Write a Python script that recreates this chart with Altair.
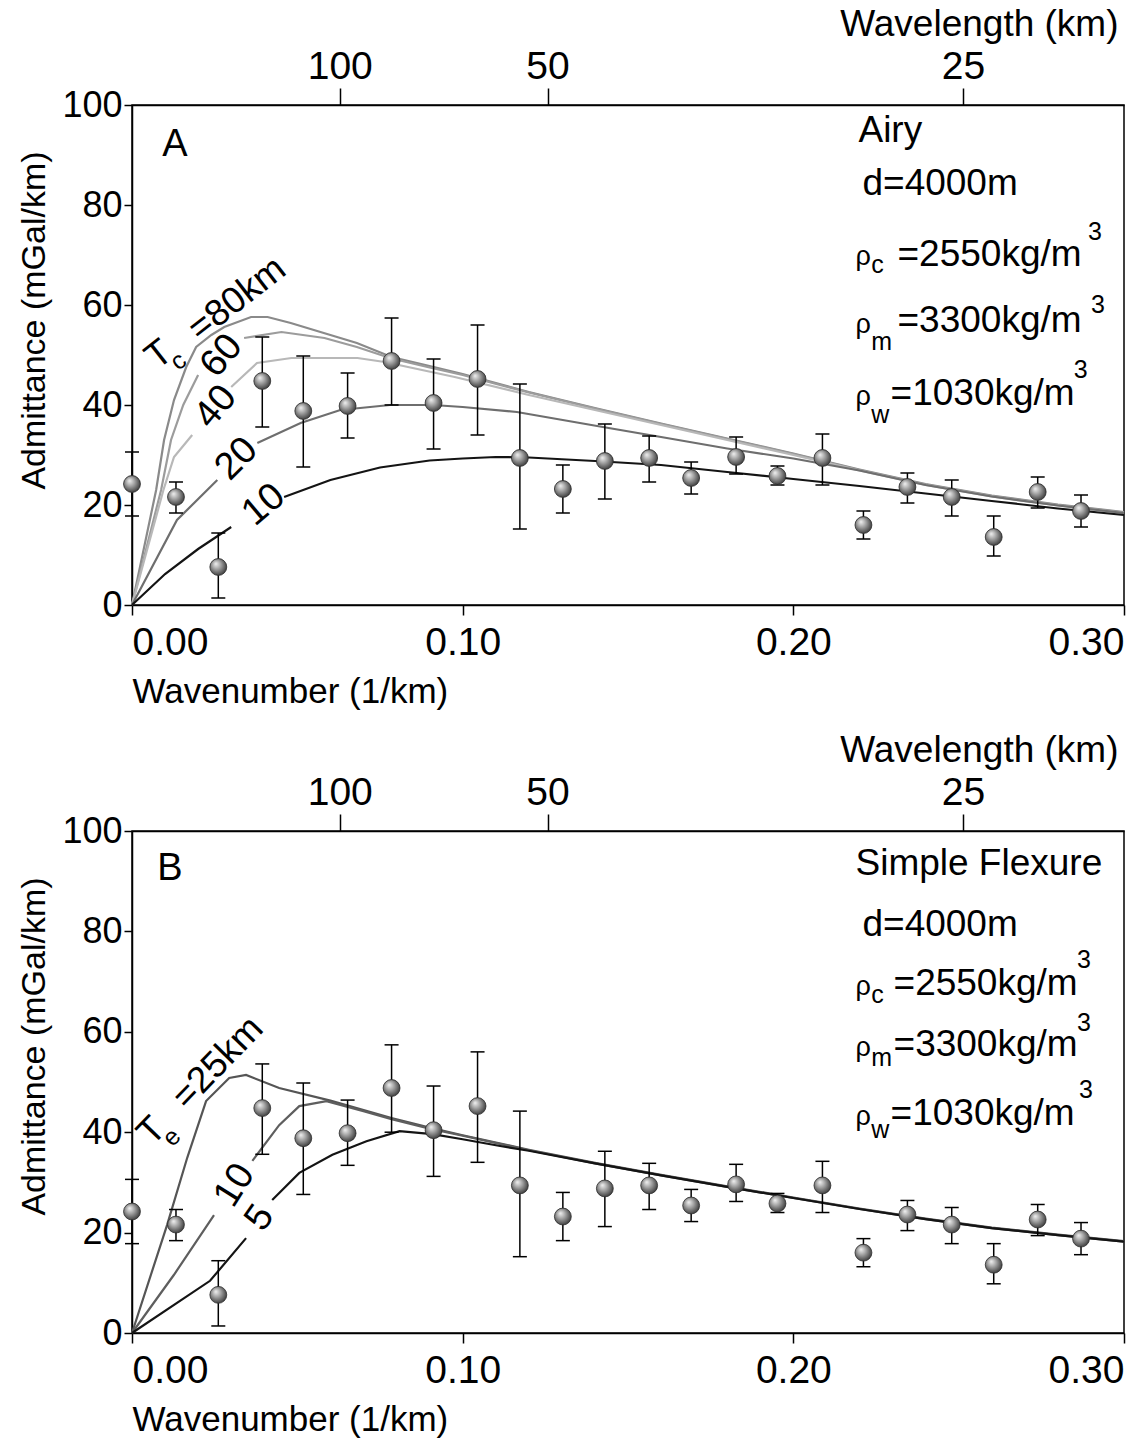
import math
import altair as alt
import pandas as pd

FONT = "Liberation Sans"

obs_k = [0.000, 0.0133, 0.0261, 0.0394, 0.0518, 0.0652, 0.0785, 0.0912, 0.1045,
         0.1173, 0.1303, 0.1430, 0.1564, 0.1691, 0.1827, 0.1952, 0.2088, 0.2212,
         0.2345, 0.2479, 0.2606, 0.2739, 0.2870]
obs_val = [24.2, 21.6, 7.6, 44.8, 38.8, 39.8, 48.8, 40.4, 45.2, 29.4, 23.2, 28.8,
           29.4, 25.4, 29.6, 25.8, 29.4, 16.0, 23.6, 21.6, 13.6, 22.6, 18.8]
obs_hi = [30.6, 24.6, 14.4, 53.6, 49.8, 46.4, 57.4, 49.2, 56.0, 44.2, 28.0, 36.2,
          33.8, 28.6, 33.6, 27.8, 34.2, 18.8, 26.4, 25.0, 17.8, 25.6, 22.0]
obs_lo = [17.8, 18.4, 1.4, 35.6, 27.6, 33.4, 40.0, 31.2, 34.0, 15.2, 18.4, 21.2,
          24.6, 22.2, 26.2, 24.0, 24.0, 13.2, 20.4, 17.8, 9.8, 19.4, 15.6]

# ---------------- model curves, panel A (Airy); None = gap behind label -------
a80_k = [0, 0.0073, 0.0097, 0.0127, 0.0164, 0.0194, 0.024, 0.0279, 0.036, 0.041, 0.048,
         0.058, 0.068, 0.0785, 0.09, 0.10, 0.12, 0.14, 0.16, 0.18, 0.20, 0.22, 0.24,
         0.26, 0.28, 0.30]
a80_v = [0, 23, 33, 41, 47.6, 51.6, 54.0, 55.6, 57.6, 57.6, 56.4, 54.4, 52.4, 49.6,
         47.8, 46.2, 42.6, 39.4, 36.3, 33.3, 30.3, 27.1, 24.2, 21.9, 20.1, 18.6]
a60_k = [0, 0.0088, 0.0118, 0.0155, 0.0200, None, 0.0339, 0.0452, 0.0582, 0.068, 0.0785,
         0.09, 0.10, 0.12, 0.14, 0.16, 0.18, 0.20, 0.22, 0.24, 0.26, 0.28, 0.30]
a60_v = [0, 23, 33, 40, 46, None, 53.4, 54.6, 53.4, 51.6, 49.3, 47.5, 46.0, 42.5, 39.3,
         36.2, 33.2, 30.2, 27.0, 24.1, 21.8, 20.0, 18.5]
a40_k = [0, 0.0095, 0.0127, 0.0182, None, 0.030, 0.0378, 0.0482, 0.0682, 0.0764, 0.0976,
         0.12, 0.14, 0.16, 0.18, 0.20, 0.22, 0.24, 0.26, 0.28, 0.30]
a40_v = [0, 23, 29.6, 34, None, 43.6, 48.4, 49.4, 49.4, 48.6, 45.6, 42.0, 39.0, 36.0,
         33.0, 30.0, 26.9, 24.0, 21.7, 19.9, 18.4]
a20_k = [0, 0.0136, 0.0258, None, 0.0379, 0.051, 0.063, 0.078, 0.091, 0.10, 0.1164,
         0.1424, 0.16, 0.18, 0.20, 0.22, 0.24, 0.26, 0.28, 0.30]
a20_v = [0, 17, 25, None, 32.4, 36.4, 39, 40, 40, 39.6, 38.6, 35.6, 33.6, 31.3, 29.3,
         26.9, 24.0, 21.7, 19.9, 18.4]
a10_k = [0, 0.01, 0.02, 0.03, None, 0.046, 0.06, 0.075, 0.09, 0.10, 0.11, 0.12, 0.14,
         0.16, 0.18, 0.20, 0.22, 0.24, 0.26, 0.28, 0.30]
a10_v = [0, 6.2, 11.2, 15.6, None, 21.6, 25, 27.5, 28.9, 29.3, 29.6, 29.5, 28.8, 28.0,
         26.6, 25.2, 23.8, 22.3, 20.8, 19.3, 18.0]

# ---------------- model curves, panel B (simple flexure) ----------------
b25_k = [0, 0.0106, 0.0167, 0.0224, 0.0294, 0.0345, 0.0445, 0.06, 0.0785, 0.09, 0.10,
         0.12, 0.14, 0.16, 0.18, 0.20, 0.22, 0.24, 0.26, 0.28, 0.30]
b25_v = [0, 21.5, 34.9, 46.2, 50.8, 51.4, 48.8, 46.3, 42.8, 40.9, 39.4, 36.5, 33.9,
         31.5, 29.2, 27.0, 24.8, 22.8, 21.0, 19.6, 18.3]
b10_k = [0, 0.0127, 0.0248, None, 0.0364, 0.0445, 0.0506, 0.0588, 0.070, 0.0785, 0.09,
         0.10, 0.12, 0.14, 0.16, 0.18, 0.20, 0.22, 0.24, 0.26, 0.28, 0.30]
b10_v = [0, 11.6, 23.5, None, 34.3, 41.4, 45.2, 46.2, 44.2, 42.6, 40.7, 39.3, 36.4,
         33.8, 31.4, 29.1, 26.9, 24.7, 22.7, 20.9, 19.5, 18.2]
b5_k = [0, 0.0236, 0.0345, None, 0.0424, 0.0506, 0.0606, 0.0709, 0.0809, 0.0909, 0.10,
        0.1109, 0.12, 0.14, 0.16, 0.18, 0.20, 0.22, 0.24, 0.26, 0.28, 0.30]
b5_v = [0, 10.4, 18.9, None, 26.5, 31.9, 35.5, 38.2, 40.2, 39.6, 38.6, 37.3, 36.3,
        33.8, 31.4, 29.1, 26.9, 24.7, 22.7, 20.9, 19.5, 18.2]

curve_names_a = ["A80", "A60", "A40", "A20", "A10"]
curve_colors_a = ["#8a8a8a", "#9c9c9c", "#b8b8b8", "#6e6e6e", "#141414"]
curve_names_b = ["B25", "B10", "B5"]
curve_colors_b = ["#555555", "#5e5e5e", "#141414"]

top_wavelengths = [100, 50, 25]
x_ticks = [0.0, 0.1, 0.2, 0.3]
y_ticks = [0, 20, 40, 60, 80, 100]

# labels on curves: text, k, value, angle, size
curve_labels_a = [
    ("T", 0.0082, 50.0, 322, 37), ("c", 0.0140, 48.8, 322, 25),
    ("=80km", 0.0318, 61.2, 322, 37),
    ("60", 0.0272, 49.8, 310, 38), ("40", 0.0254, 39.6, 310, 38),
    ("20", 0.0317, 29.2, 315, 38), ("10", 0.0399, 20.0, 320, 38),
    ("A", 0.0130, 92.0, 0, 38),
]
curve_labels_b = [
    ("T", 0.0060, 40.2, 314, 37), ("e", 0.0120, 39.0, 314, 25),
    ("=25km", 0.0260, 53.8, 314, 37),
    ("10", 0.0311, 29.4, 302, 38), ("5", 0.0387, 22.9, 305, 38),
    ("B", 0.0115, 92.4, 0, 38),
]
# parameter boxes: text, k (left edge), value (baseline), size
params_a = [
    ("Airy", 0.2197, 92.7, 37), ("d=4000m", 0.2209, 82.0, 37),
    ("ρ", 0.2188, 68.0, 27), ("c", 0.2236, 66.4, 25), ("=2550kg/m", 0.2315, 67.9, 37), ("3", 0.2891, 73.0, 25),
    ("ρ", 0.2188, 54.4, 27), ("m", 0.2236, 51.0, 25), ("=3300kg/m", 0.2315, 54.6, 37), ("3", 0.2900, 58.4, 25),
    ("ρ", 0.2188, 40.0, 27), ("w", 0.2236, 36.4, 25), ("=1030kg/m", 0.2294, 40.0, 37), ("3", 0.2848, 45.4, 25),
]
params_b = [
    ("Simple Flexure", 0.2188, 91.2, 37), ("d=4000m", 0.2209, 79.1, 37),
    ("ρ", 0.2188, 67.3, 27), ("c", 0.2236, 65.7, 25), ("=2550kg/m", 0.2303, 67.3, 37), ("3", 0.2858, 72.7, 25),
    ("ρ", 0.2188, 55.2, 27), ("m", 0.2236, 53.2, 25), ("=3300kg/m", 0.2303, 55.2, 37), ("3", 0.2858, 60.2, 25),
    ("ρ", 0.2188, 41.4, 27), ("w", 0.2236, 38.8, 25), ("=1030kg/m", 0.2294, 41.4, 37), ("3", 0.2864, 46.8, 25),
]


def curve_frame(named):
    rows = []
    for name, ks, vs in named:
        seg = 0
        for k, v in zip(ks, vs):
            if k is None:
                seg += 1
                continue
            rows.append({"k": k, "v": v, "curve": name, "seg": f"{name}-{seg}"})
    return pd.DataFrame(rows)


obs = pd.DataFrame({"k": obs_k, "v": obs_val, "hi": obs_hi, "lo": obs_lo})
top_df = pd.DataFrame({"k": [2 * math.pi / w for w in top_wavelengths]})

xscale = alt.Scale(domain=[0, 0.30], nice=False, zero=False)
yscale = alt.Scale(domain=[0, 100], nice=False)

sphere = alt.RadialGradient(
    gradient="radial",
    stops=[alt.GradientStop(color="#f2f2f2", offset=0),
           alt.GradientStop(color="#a0a0a0", offset=0.45),
           alt.GradientStop(color="#353535", offset=1)],
    x1=0.35, y1=0.3, r1=0, x2=0.45, y2=0.45, r2=0.6,
)


def panel(curves_df, names, colors, labels, params, h):
    y_axis = alt.Axis(values=y_ticks, title="Admittance (mGal/km)", tickSize=8,
                      labelPadding=2, labelFontSize=36, titlePadding=10,
                      titleY=215, titleFontSize=34)
    lines = alt.Chart(curves_df).mark_line(strokeWidth=2.2).encode(
        x=alt.X("k:Q", scale=xscale,
                axis=alt.Axis(values=x_ticks, format=".2f", tickSize=10, labelFlush=True,
                              labelPadding=8, title="Wavenumber (1/km)", titleFontSize=35,
                              titleAnchor="start", titleAlign="left", titlePadding=12)),
        y=alt.Y("v:Q", scale=yscale, axis=y_axis),
        color=alt.Color("curve:N", scale=alt.Scale(domain=names, range=colors), legend=None),
        detail="seg:N",
    )
    top_axis = alt.Chart(top_df).mark_point(opacity=0).encode(
        x=alt.X("k:Q", scale=xscale,
                axis=alt.Axis(orient="top", values=list(top_df["k"]),
                              labelExpr="format(2*PI/datum.value, '.0f')",
                              tickSize=17, labelPadding=2, title="Wavelength (km)",
                              titleFontSize=37, titleX=986,
                              titleAnchor="end", titleAlign="right", titlePadding=4)),
    )
    bars = alt.Chart(obs).mark_rule(color="black", strokeWidth=1.5).encode(
        x=alt.X("k:Q", scale=xscale, axis=None),
        y=alt.Y("lo:Q", scale=yscale, axis=y_axis), y2="hi:Q",
    )
    cap_hi = alt.Chart(obs).mark_point(shape="M-1,0L1,0", size=196, filled=False,
                                       color="black", strokeWidth=1.5, opacity=1).encode(
        x=alt.X("k:Q", scale=xscale, axis=None),
        y=alt.Y("hi:Q", scale=yscale, axis=y_axis),
    )
    cap_lo = alt.Chart(obs).mark_point(shape="M-1,0L1,0", size=196, filled=False,
                                       color="black", strokeWidth=1.5, opacity=1).encode(
        x=alt.X("k:Q", scale=xscale, axis=None),
        y=alt.Y("lo:Q", scale=yscale, axis=y_axis),
    )
    dots = alt.Chart(obs).mark_circle(size=285, fill=sphere, stroke="#2a2a2a",
                                      strokeWidth=0.8, opacity=1).encode(
        x=alt.X("k:Q", scale=xscale, axis=None),
        y=alt.Y("v:Q", scale=yscale, axis=y_axis),
    )
    lab_df = pd.DataFrame(labels, columns=["t", "k", "v", "angle", "size"])
    labs = alt.Chart(lab_df).mark_text(font=FONT, color="black", align="center",
                                       baseline="middle").encode(
        x=alt.X("k:Q", scale=xscale, axis=None),
        y=alt.Y("v:Q", scale=yscale, axis=y_axis),
        text="t:N",
        angle=alt.Angle("angle:Q", scale=None),
        size=alt.Size("size:Q", scale=None, legend=None),
    )
    par_df = pd.DataFrame(params, columns=["t", "k", "v", "size"])
    pars = alt.Chart(par_df).mark_text(font=FONT, color="black", align="left",
                                       baseline="alphabetic").encode(
        x=alt.X("k:Q", scale=xscale, axis=None),
        y=alt.Y("v:Q", scale=yscale, axis=y_axis),
        text="t:N",
        size=alt.Size("size:Q", scale=None, legend=None),
    )
    return alt.layer(lines, top_axis, bars, cap_hi, cap_lo, dots, labs, pars).resolve_axis(
        x="independent").properties(width=992, height=h)


df_a = curve_frame([("A80", a80_k, a80_v), ("A60", a60_k, a60_v), ("A40", a40_k, a40_v),
                    ("A20", a20_k, a20_v), ("A10", a10_k, a10_v)])
df_b = curve_frame([("B25", b25_k, b25_v), ("B10", b10_k, b10_v), ("B5", b5_k, b5_v)])

pa = panel(df_a, curve_names_a, curve_colors_a, curve_labels_a, params_a, 500)
pb = panel(df_b, curve_names_b, curve_colors_b, curve_labels_b, params_b, 502)

chart = alt.vconcat(pa, pb, spacing=20).resolve_scale(color="independent").properties(
    padding={"left": 17, "top": 4, "right": 5, "bottom": 0}
).configure(background="white").configure_view(stroke="black", strokeWidth=1.5).configure_axis(
    grid=False, domainColor="black", tickColor="black", domainWidth=1.5, tickWidth=1.5,
    labelColor="black", titleColor="black", labelFont=FONT, titleFont=FONT,
    labelFontSize=39, titleFontSize=35, titleFontWeight="normal",
)

chart.save("out.html", embed_options={"renderer": "svg", "actions": False})
